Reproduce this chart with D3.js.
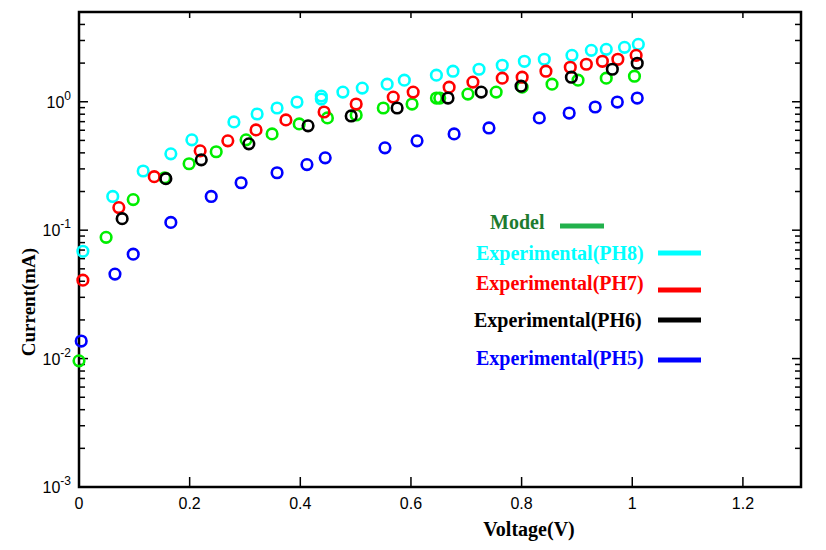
<!DOCTYPE html>
<html>
<head>
<meta charset="utf-8">
<script src="https://d3js.org/d3.v7.min.js"></script>
<style>
  body { margin: 0; background: #fff; }
</style>
</head>
<body>
<div id="chart"></div>
<script>
// values (voltage in V, current in mA)
const modelV = [0, 0.049, 0.098, 0.155, 0.199, 0.248, 0.302, 0.349, 0.398, 0.449, 0.501, 0.550, 0.602, 0.646, 0.652, 0.703, 0.754, 0.801, 0.855, 0.902, 0.953, 1.004];
const modelI = [0.0096, 0.088, 0.173, 0.256, 0.329, 0.408, 0.505, 0.562, 0.672, 0.748, 0.789, 0.894, 0.960, 1.069, 1.069, 1.148, 1.189, 1.300, 1.371, 1.473, 1.526, 1.581];

const ph8V = [0.007, 0.061, 0.116, 0.166, 0.204, 0.280, 0.322, 0.358, 0.394, 0.438, 0.438, 0.477, 0.512, 0.557, 0.588, 0.646, 0.676, 0.723, 0.765, 0.805, 0.841, 0.891, 0.926, 0.953, 0.986, 1.011];
const ph8I = [0.0685, 0.183, 0.289, 0.393, 0.505, 0.697, 0.803, 0.894, 0.995, 1.107, 1.049, 1.189, 1.277, 1.371, 1.473, 1.610, 1.729, 1.791, 1.923, 2.066, 2.142, 2.300, 2.515, 2.559, 2.653, 2.799];

const ph7V = [0.007, 0.072, 0.136, 0.219, 0.269, 0.320, 0.374, 0.443, 0.501, 0.568, 0.604, 0.669, 0.712, 0.765, 0.801, 0.844, 0.888, 0.917, 0.946, 0.974, 1.007];
const ph7I = [0.0408, 0.150, 0.261, 0.415, 0.496, 0.604, 0.722, 0.832, 0.960, 1.087, 1.189, 1.300, 1.422, 1.526, 1.553, 1.729, 1.857, 1.959, 2.066, 2.142, 2.300];

const ph6V = [0.078, 0.157, 0.221, 0.307, 0.414, 0.492, 0.575, 0.667, 0.727, 0.799, 0.890, 0.964, 1.009];
const ph6I = [0.123, 0.252, 0.353, 0.470, 0.649, 0.775, 0.894, 1.069, 1.189, 1.323, 1.553, 1.791, 1.995];

const ph5V = [0.004, 0.065, 0.098, 0.166, 0.239, 0.293, 0.358, 0.412, 0.445, 0.553, 0.611, 0.678, 0.741, 0.832, 0.886, 0.933, 0.973, 1.009];
const ph5I = [0.0137, 0.0455, 0.065, 0.115, 0.183, 0.234, 0.280, 0.324, 0.366, 0.438, 0.496, 0.562, 0.625, 0.748, 0.817, 0.910, 0.995, 1.069];

const xTicks = [0, 0.2, 0.4, 0.6, 0.8, 1, 1.2];
const yExponents = [-3, -2, -1, 0];

const legendLabels = ["Model", "Experimental(PH8)", "Experimental(PH7)", "Experimental(PH6)", "Experimental(PH5)"];
const legendTextColors = ["#1e7b2e", "#00ffff", "#ff0000", "#000000", "#0000ff"];
const legendLineColors = ["#22b14c", "#00ffff", "#ff0000", "#000000", "#0000ff"];

const width = 826, height = 550;
const margin = {top: 12, right: 25, bottom: 63, left: 79};

const svg = d3.select("#chart")
  .append("svg")
    .attr("width", width)
    .attr("height", height)
    .style("background", "#fff");

const x = d3.scaleLinear()
    .domain([0, 1.305])
    .range([margin.left, width - margin.right]);

const y = d3.scaleLog()
    .domain([1e-3, 5])
    .range([height - margin.bottom, margin.top]);

// minor + major log ticks
const logTicks = [];
for (let e = -3; e <= 0; e++) {
  for (let m = 1; m <= 9; m++) {
    const v = m * Math.pow(10, e);
    if (v >= 1e-3 && v <= 5) logTicks.push({v: v, major: m === 1});
  }
}

const x0 = x.range()[0], x1 = x.range()[1];
const y0 = y.range()[0], y1 = y.range()[1];

const ticks = svg.append("g").attr("stroke", "#000").attr("stroke-width", 1.5);

// left and right ticks
ticks.selectAll(".yl")
  .data(logTicks)
  .join("line")
    .attr("x1", x0).attr("x2", d => x0 + (d.major ? 9 : 6))
    .attr("y1", d => y(d.v)).attr("y2", d => y(d.v));
ticks.selectAll(".yr")
  .data(logTicks)
  .join("line")
    .attr("x1", x1).attr("x2", d => x1 - (d.major ? 9 : 6))
    .attr("y1", d => y(d.v)).attr("y2", d => y(d.v));

// bottom and top ticks
ticks.selectAll(".xb")
  .data(xTicks.slice(1))
  .join("line")
    .attr("x1", d => x(d)).attr("x2", d => x(d))
    .attr("y1", y0).attr("y2", y0 - 10);
ticks.selectAll(".xt")
  .data(xTicks.slice(1))
  .join("line")
    .attr("x1", d => x(d)).attr("x2", d => x(d))
    .attr("y1", y1).attr("y2", y1 + 6);

// frame
svg.append("rect")
  .attr("x", x0).attr("y", y1)
  .attr("width", x1 - x0).attr("height", y0 - y1)
  .attr("fill", "none")
  .attr("stroke", "#000")
  .attr("stroke-width", 2.5);

// x tick labels
svg.append("g")
  .selectAll("text")
  .data(xTicks)
  .join("text")
    .attr("x", d => x(d))
    .attr("y", y0 + 22)
    .attr("text-anchor", "middle")
    .style("font-family", "Liberation Sans, Arial, sans-serif")
    .style("font-size", "16px")
    .text(d => d3.format("~g")(d));

// y tick labels 10^n
const yl = svg.append("g")
  .selectAll("text")
  .data(yExponents)
  .join("text")
    .attr("x", 71)
    .attr("y", d => y(Math.pow(10, d)) + 6)
    .attr("text-anchor", "end")
    .style("font-family", "Liberation Sans, Arial, sans-serif")
    .style("font-size", "16px");
yl.append("tspan").text("10");
yl.append("tspan")
  .attr("dy", -8)
  .style("font-size", "12px")
  .text(d => d);

// axis titles
svg.append("text")
  .attr("x", 529)
  .attr("y", 536)
  .attr("text-anchor", "middle")
  .style("font-family", "Liberation Serif, Times New Roman, serif")
  .style("font-weight", "bold")
  .style("font-size", "20px")
  .text("Voltage(V)");

svg.append("text")
  .attr("transform", "translate(35,302) rotate(-90)")
  .attr("text-anchor", "middle")
  .style("font-family", "Liberation Serif, Times New Roman, serif")
  .style("font-weight", "bold")
  .style("font-size", "19px")
  .text("Current(mA)");

// scatter series, drawn in this order
const series = [
  {v: modelV, i: modelI, color: "#00ee00"},
  {v: ph5V, i: ph5I, color: "#0000ff"},
  {v: ph8V, i: ph8I, color: "#00ffff"},
  {v: ph7V, i: ph7I, color: "#ff0000"},
  {v: ph6V, i: ph6I, color: "#000000"}
];

series.forEach(s => {
  svg.append("g")
    .selectAll("circle")
    .data(s.v.map((v, k) => [v, s.i[k]]))
    .join("circle")
      .attr("cx", d => x(d[0]))
      .attr("cy", d => y(d[1]))
      .attr("r", 5.3)
      .attr("fill", "none")
      .attr("stroke", s.color)
      .attr("stroke-width", 2.6);
});

// legend
const legendTextX = [490, 476, 476, 474, 476];
const legendTextY = [229, 260, 290, 327, 365];
const legendLineX = [[560, 604], [658, 701], [658, 701], [658, 701], [658, 701]];
const legendLineY = [226, 253, 290, 320, 360];

const legend = svg.append("g");
legendLabels.forEach((label, k) => {
  legend.append("text")
    .attr("x", legendTextX[k])
    .attr("y", legendTextY[k])
    .style("font-family", "Liberation Serif, Times New Roman, serif")
    .style("font-weight", "bold")
    .style("font-size", "20px")
    .attr("fill", legendTextColors[k])
    .text(label);
  legend.append("line")
    .attr("x1", legendLineX[k][0]).attr("x2", legendLineX[k][1])
    .attr("y1", legendLineY[k]).attr("y2", legendLineY[k])
    .attr("stroke", legendLineColors[k])
    .attr("stroke-width", 5);
});
</script>
</body>
</html>
